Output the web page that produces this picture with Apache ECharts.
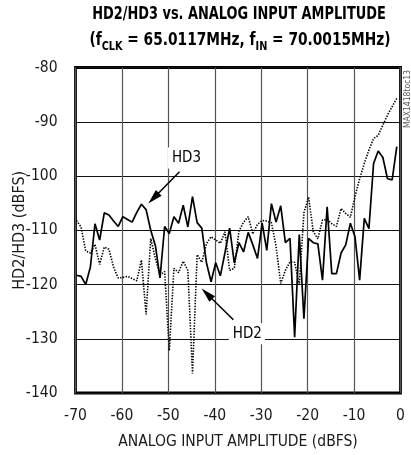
<!DOCTYPE html>
<html>
<head>
<meta charset="utf-8">
<script src="https://cdn.jsdelivr.net/npm/echarts@6/dist/echarts.min.js"></script>
<style>
html,body{margin:0;padding:0;background:#fff;}
#c{width:411px;height:455px;}
</style>
</head>
<body>
<div id="c"></div>
<script>
// Input amplitude (dBFS) of each measured point
var inputAmp = [-69.8,-68.8,-67.8,-66.8,-65.8,-64.8,-63.8,-62.8,-61.8,-60.8,
  -59.8,-58.8,-57.8,-56.8,-55.8,-54.8,-53.8,-52.8,-51.8,-50.8,
  -49.8,-48.8,-47.8,-46.8,-45.8,-44.8,-43.8,-42.8,-41.8,-40.8,
  -39.8,-38.8,-37.8,-36.8,-35.8,-34.8,-33.8,-32.8,-31.8,-30.8,
  -29.8,-28.8,-27.8,-26.8,-25.8,-24.8,-23.8,-22.8,-21.8,-20.8,
  -19.8,-18.8,-17.8,-16.8,-15.8,-14.8,-13.8,-12.8,-11.8,-10.8,
  -9.8,-8.8,-7.8,-6.8,-5.8,-4.8,-3.8,-2.8,-1.8,-0.8];

// HD3 (solid line), dBFS
var hd3 = [-118.3,-118.5,-120.0,-116.8,-108.8,-111.8,-106.8,-107.2,-108.3,-109.3,
  -107.5,-108.0,-108.5,-106.7,-105.2,-106.2,-110.0,-112.8,-118.8,-109.3,
  -110.6,-107.5,-108.7,-105.4,-109.4,-103.8,-108.6,-109.6,-116.0,-119.5,
  -116.0,-118.4,-114.1,-109.6,-116.0,-112.3,-114.0,-110.4,-112.7,-115.2,
  -108.7,-113.7,-105.1,-108.5,-105.5,-112.3,-111.5,-129.7,-110.8,-126.3,
  -111.5,-112.3,-112.5,-119.2,-105.7,-118.0,-118.0,-114.2,-112.7,-108.7,
  -111.2,-119.2,-107.8,-109.7,-97.7,-95.4,-96.6,-100.5,-100.7,-94.6];

// HD2 (dotted line), dBFS
var hd2 = [-108.2,-109.4,-113.8,-114.2,-112.6,-116.3,-113.1,-113.5,-116.8,-118.8,
  -118.7,-118.5,-118.9,-119.3,-115.5,-125.5,-111.5,-115.2,-118.3,-117.6,
  -132.2,-117.0,-117.8,-115.7,-117.4,-136.4,-114.5,-115.9,-112.5,-111.2,
  -111.8,-112.4,-110.3,-117.4,-117.0,-110.2,-108.5,-107.5,-110.7,-108.9,
  -108.2,-108.3,-108.6,-113.0,-119.8,-117.4,-115.8,-115.9,-120.0,-106.8,
  -103.9,-110.2,-111.6,-108.1,-108.0,-108.8,-109.3,-106.0,-106.9,-107.6,
  -103.8,-100.5,-97.7,-95.2,-93.1,-92.5,-90.6,-88.8,-87.2,-85.7];

var xTicks = [-70,-60,-50,-40,-30,-20,-10,0];
var yTicks = [-140,-130,-120,-110,-100,-90,-80];

// annotation anchors in data coordinates
var hd3Label = [-46.2, -96.7];
var hd3Arrow = [[-47.6, -99.2], [-53.2, -104.1]];
var hd2Label = [-33.1, -129.1];
var hd2Arrow = [[-36.0, -126.5], [-41.7, -121.7]];

var FONT = "'Liberation Sans Narrow','DejaVu Sans Condensed','Liberation Sans',Arial,sans-serif";

function pairs(ys){ return inputAmp.map(function(x,i){ return [x, ys[i]]; }); }

var chart = echarts.init(document.getElementById('c'), null, {renderer:'canvas'});
chart.setOption({
  animation: false,
  backgroundColor: '#fff',
  textStyle: {fontFamily: FONT},
  graphic: [
    {type:'text', x:239, y:15, scaleX:0.845, style:{text:'HD2/HD3 vs. ANALOG INPUT AMPLITUDE', font:'bold 17px ' + FONT, fill:'#000', align:'center', verticalAlign:'middle'}},
    {type:'text', x:240, y:29, scaleX:0.9, style:{
      text:'{b|(f}{s|CLK}{b| = 65.0117MHz, f}{s|IN}{b| = 70.0015MHz)}',
      align:'center', verticalAlign:'top', fill:'#000',
      rich:{
        b:{fontFamily:FONT, fontWeight:'bold', fontSize:17, lineHeight:24, verticalAlign:'middle'},
        s:{fontFamily:FONT, fontWeight:'bold', fontSize:12, lineHeight:24, verticalAlign:'bottom'}
      }}},
    {type:'text', x:408, y:99, rotation:Math.PI/2, style:{text:'MAX1418toc13', font:'8.5px ' + FONT, fill:'#555', align:'center', verticalAlign:'middle'}}
  ],
  grid: {left:75.5, right:10.5, top:67.5, bottom:62, show:true, containLabel:false, outerBoundsMode:'none',
    borderColor:'#000', borderWidth:2.8, backgroundColor:'transparent'},
  xAxis: {
    type:'value', min:xTicks[0], max:xTicks[xTicks.length-1], interval:10,
    name:'ANALOG INPUT AMPLITUDE (dBFS)', nameLocation:'middle', nameGap:41, nameMoveOverlap:false,
    nameTextStyle:{fontSize:15.5, color:'#1a1a1a', fontFamily:FONT},
    axisLine:{show:false}, axisTick:{show:false},
    axisLabel:{fontSize:15.5, color:'#1a1a1a', margin:15, fontFamily:FONT},
    splitLine:{show:true, lineStyle:{color:'#555', width:1.2}}
  },
  yAxis: {
    type:'value', min:yTicks[0], max:yTicks[yTicks.length-1], interval:10,
    name:'HD2/HD3 (dBFS)', nameLocation:'middle', nameGap:48, nameRotate:90, nameMoveOverlap:false,
    nameTextStyle:{fontSize:16, color:'#1a1a1a', fontFamily:FONT},
    axisLine:{show:false}, axisTick:{show:false},
    axisLabel:{fontSize:15.5, color:'#1a1a1a', margin:18, fontFamily:FONT},
    splitLine:{show:true, lineStyle:{color:'#111', width:1}}
  },
  series: [
    {
      name:'HD2', type:'line', data:pairs(hd2), symbol:'none', silent:true,
      lineStyle:{color:'#000', width:1.6, type:[1.4,1.4]}
    },
    {
      name:'HD3', type:'line', data:pairs(hd3), symbol:'none', silent:true,
      lineStyle:{color:'#000', width:1.7},
      markPoint:{
        silent:true, symbol:'rect', symbolSize:1, itemStyle:{color:'rgba(0,0,0,0)'},
        label:{show:true, position:'inside', color:'#000', fontSize:15, fontFamily:FONT, backgroundColor:'#fff', padding:[3,3,3,4], formatter:function(p){return p.name;}},
        data:[
          {name:'HD3', coord:hd3Label},
          {name:'HD2', coord:hd2Label}
        ]
      },
      markLine:{
        silent:true, animation:false,
        lineStyle:{color:'#000', width:1.5, type:'solid'},
        label:{show:false},
        data:[
          [{coord:hd3Arrow[0], symbol:'none'}, {coord:hd3Arrow[1], symbol:'triangle', symbolSize:[8,15]}],
          [{coord:hd2Arrow[0], symbol:'none'}, {coord:hd2Arrow[1], symbol:'triangle', symbolSize:[8,15]}]
        ]
      }
    }
  ]
});
</script>
</body>
</html>
